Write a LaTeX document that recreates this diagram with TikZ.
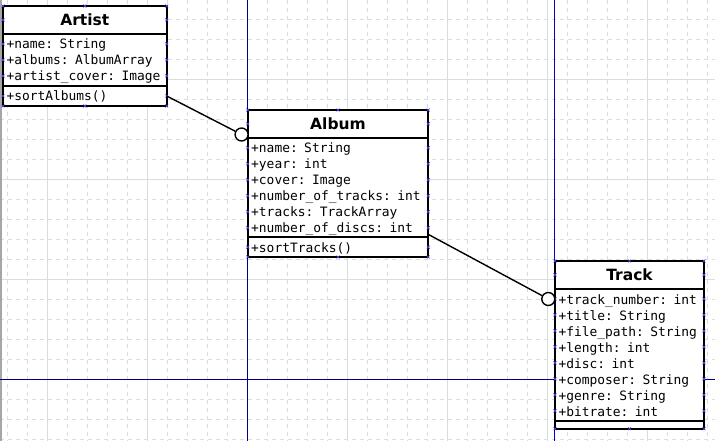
\documentclass[tikz,border=0pt]{standalone}
\usepackage{fontspec}
\setmainfont{DejaVu Sans}
\setmonofont{DejaVu Sans Mono}
\usepackage{tikz}
\usetikzlibrary{positioning, calc}
\definecolor{gridGris}{RGB}{214,222,222}
\definecolor{guiaNavy}{RGB}{0,0,128}
\definecolor{guiaAzul}{RGB}{0,0,200}
\definecolor{puntoCon}{RGB}{70,70,255}
\definecolor{bordeGris}{RGB}{168,166,160}
\newcommand{\umlstrut}{\rule[-3pt]{0pt}{16pt}}
\newcommand{\umlfont}{\ttfamily\fontsize{12.9}{16}\selectfont
  \lineskiplimit=-20pt\relax}
\tikzset{
  uml/title/.style={rectangle, draw=black, fill=white, line width=2pt,
    inner xsep=3.5pt, inner ysep=0pt, outer sep=0pt, text width=#1,
    align=center, minimum height=27.7pt,
    font=\fontsize{15.5}{18}\selectfont\bfseries},
  uml/box/.style={rectangle, draw=black, fill=white, line width=2pt,
    inner xsep=3.5pt, inner ysep=0pt, outer sep=0pt, text width=#1,
    align=left, font=\umlfont},
  uml/body/.style={uml/box=#1, execute at begin node=\umlstrut,
    execute at end node=\umlstrut},
  uml/circ/.style={circle, draw=black, fill=white, line width=1.4pt,
    minimum size=13pt, inner sep=0pt},
  uml/assoc/.style={line width=1.4pt, draw=black},
  grid/minor/.style={draw=gridGris, line width=0.8pt,
    dash pattern=on 4pt off 4pt},
  grid/major/.style={draw=gridGris, line width=0.9pt},
  guide/.style={line width=1pt},
  cpt/.style={draw=puntoCon, line width=0.6pt}
}
\newcommand{\cpt}[1]{\draw[cpt, shift={(#1)}] (-1.5,-1.5) -- (1.5,1.5)
  (-1.5,1.5) -- (1.5,-1.5);}

\begin{document}
\begin{tikzpicture}[x=1pt, y=-1pt]
  \useasboundingbox[fill=white] (0,0) rectangle (715,441);

  % grid and guides
  \foreach \gx in {7.3,27.3,...,707.4}
    \draw[grid/minor] (\gx,0) -- (\gx,441);
  \foreach \gy in {19.3,39.3,...,439.4}
    \draw[grid/minor] (0,\gy) -- (715,\gy);
  \foreach \gx in {47.3,147.3,...,647.4}
    \draw[grid/major] (\gx,0) -- (\gx,441);
  \foreach \gy in {79.3,179.3,279.3}
    \draw[grid/major] (0,\gy) -- (715,\gy);
  \fill[bordeGris] (0,0) rectangle (1.5,441);
  \draw[guide, guiaNavy] (247.3,0) -- (247.3,441);
  \draw[guide, guiaNavy] (0,379.3) -- (715,379.3);
  \draw[guide, guiaAzul] (554.3,0) -- (554.3,441);

  % classes
  \node[uml/title=156.7pt, anchor=north west] (artist) at (3,6) {Artist};
  \node[uml/body=156.7pt, minimum height=52.3pt, below=0pt of artist]
    (artist-a) {+name: String\\+albums: AlbumArray\\+artist\_cover: Image};
  \node[uml/body=156.7pt, minimum height=20pt, below=0pt of artist-a]
    (artist-m) {+sortAlbums()};

  \node[uml/title=173.6pt, anchor=north west] (album) at (247.7,110) {Album};
  \node[uml/body=173.6pt, minimum height=99.7pt, below=0pt of album]
    (album-a) {+name: String\\+year: int\\+cover: Image\\
      +number\_of\_tracks: int\\+tracks: TrackArray\\+number\_of\_discs: int};
  \node[uml/body=173.6pt, minimum height=19.6pt, below=0pt of album-a]
    (album-m) {+sortTracks()};

  \node[uml/title=142pt, anchor=north west] (track) at (555,261) {Track};
  \node[uml/body=142pt, minimum height=132.7pt, below=0pt of track]
    (track-a) {+track\_number: int\\+title: String\\+file\_path: String\\
      +length: int\\+disc: int\\+composer: String\\+genre: String\\
      +bitrate: int};
  \node[uml/box=142pt, minimum height=7.3pt, below=0pt of track-a]
    (track-m) {};

  % connection points
  \foreach \c/\n in {artist/3, album/6, track/8} {
    \foreach \p in {north west, north, north east, west, east} {
      \cpt{\c.\p}
    }
    \foreach \i in {1,...,\n} {
      \cpt{$(\c-a.north west)+(0,-5.85+16*\i)$}
      \cpt{$(\c-a.north east)+(0,-5.85+16*\i)$}
    }
    \foreach \p in {south west, south, south east} {
      \cpt{\c-m.\p}
    }
  }
  \foreach \c in {artist, album} {
    \cpt{\c-m.west}
    \cpt{\c-m.east}
  }

  % associations
  \node[uml/circ] (artist-end) at (241.6,134.5) {};
  \node[uml/circ] (track-end) at (548.3,299) {};
  \draw[uml/assoc] (artist-m.east) -- (artist-end);
  \draw[uml/assoc] ([yshift=3pt]album-a.south east) -- (track-end);
\end{tikzpicture}
\end{document}
